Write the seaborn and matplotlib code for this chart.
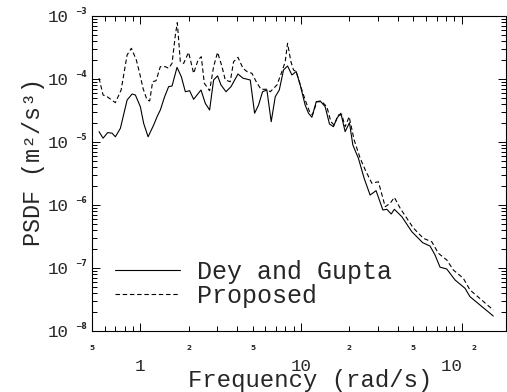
import numpy as np
import pandas as pd
import matplotlib
matplotlib.use("Agg")
import matplotlib.pyplot as plt
import seaborn as sns
from matplotlib.ticker import FixedLocator, FixedFormatter, FuncFormatter

# ---------------- data ----------------
freq_dey = [0.553, 0.586, 0.626, 0.667, 0.699, 0.751, 0.827, 0.888, 0.931, 1.0,
            1.048, 1.117, 1.21, 1.27, 1.331, 1.416, 1.499, 1.574, 1.691, 1.798,
            1.905, 2.025, 2.145, 2.252, 2.384, 2.536, 2.697, 2.856, 3.024, 3.176,
            3.411, 3.664, 4.05, 4.35, 4.83, 5.14, 5.44, 5.76, 6.13, 6.52,
            6.91, 7.32, 7.78, 8.24, 8.77, 9.33, 9.88, 10.6, 11.13, 11.68,
            12.43, 13.16, 14.13, 15.03, 15.91, 16.71, 17.69, 18.81, 20.01, 21.01,
            22.76, 24.7, 26.9, 29.3, 32.3, 34.2, 36.4, 38.1, 42.4, 48.9,
            57.2, 63.5, 68.2, 73.3, 80.7, 90.9, 104.8, 112.6, 157.2]
psdf_dey = [1.46e-5, 1.15e-5, 1.41e-5, 1.38e-5, 1.21e-5, 1.65e-5, 4.64e-5, 5.78e-5, 5.57e-5, 3.63e-5,
            1.98e-5, 1.21e-5, 1.86e-5, 2.52e-5, 3.22e-5, 5.24e-5, 7.55e-5, 7.74e-5, 1.53e-4, 1.09e-4,
            6.28e-5, 6.52e-5, 4.76e-5, 5.57e-5, 6.69e-5, 4.11e-5, 3.22e-5, 9.64e-5, 1.12e-4, 8.04e-5,
            6.28e-5, 7.55e-5, 1.20e-4, 1.03e-4, 9.64e-5, 2.86e-5, 3.87e-5, 6.28e-5, 6.69e-5, 2.10e-5,
            5.24e-5, 6.69e-5, 1.39e-4, 1.61e-4, 1.16e-4, 1.31e-4, 8.04e-5, 3.87e-5, 2.86e-5, 2.47e-5,
            4.36e-5, 4.48e-5, 3.63e-5, 1.93e-5, 1.75e-5, 2.38e-5, 2.86e-5, 1.46e-5, 2.02e-5, 8.95e-6,
            5.5e-6, 2.65e-6, 1.44e-6, 1.69e-6, 8.34e-7, 8.55e-7, 7.2e-7, 8.55e-7, 6.52e-7, 3.77e-7,
            2.52e-7, 2.23e-7, 1.61e-7, 1.03e-7, 9.64e-8, 6.45e-8, 4.77e-8, 3.5e-8, 1.73e-8]

freq_prop = [0.553, 0.586, 0.621, 0.699, 0.759, 0.827, 0.879, 0.944, 0.99, 1.039,
             1.10, 1.143, 1.192, 1.252, 1.331, 1.43, 1.499, 1.574, 1.651, 1.698,
             1.773, 1.859, 1.996, 2.145, 2.285, 2.394, 2.50, 2.697, 2.856, 3.024,
             3.221, 3.377, 3.626, 3.802, 4.05, 4.35, 4.61, 4.95, 5.26, 5.63,
             6.13, 6.43, 7.08, 7.60, 7.97, 8.24, 8.65, 8.98, 9.33, 10.12,
             10.61, 11.29, 11.78, 12.55, 13.48, 14.48, 15.33, 16.07, 17.09, 17.95,
             18.81, 19.93, 21.4, 23.3, 25.1, 27.6, 30.3, 33.4, 35.8, 38.1,
             41.4, 50.0, 57.7, 65.1, 71.6, 80.7, 88.7, 102.3, 112.6, 157.2]
psdf_prop = [1.03e-4, 5.57e-5, 5.24e-5, 4.21e-5, 6.69e-5, 2.41e-4, 3.07e-4, 2.0e-4, 1.23e-4, 7.11e-5,
             4.64e-5, 4.48e-5, 9.06e-5, 9.39e-5, 1.57e-4, 1.57e-4, 1.48e-4, 1.77e-4, 4.99e-4, 7.83e-4,
             1.88e-4, 1.77e-4, 2.65e-4, 1.23e-4, 2.0e-4, 2.26e-4, 8.55e-5, 6.52e-5, 1.57e-4, 2.65e-4,
             1.57e-4, 9.64e-5, 9.06e-5, 1.88e-4, 2.21e-4, 1.48e-4, 1.31e-4, 1.23e-4, 9.06e-5, 6.87e-5,
             6.87e-5, 6.28e-5, 8.04e-5, 1.31e-4, 1.88e-4, 3.69e-4, 1.88e-4, 1.39e-4, 1.31e-4, 6.69e-5,
             4.64e-5, 3.03e-5, 2.69e-5, 4.36e-5, 4.36e-5, 3.63e-5, 2.10e-5, 1.86e-5, 2.69e-5, 2.69e-5,
             1.75e-5, 2.52e-5, 1.08e-5, 5.57e-6, 3.6e-6, 2.21e-6, 2.34e-6, 9.4e-7, 1.06e-6, 1.32e-6,
             8.87e-7, 4.31e-7, 2.96e-7, 2.61e-7, 1.71e-7, 1.34e-7, 9.29e-8, 6.87e-8, 4.48e-8, 2.15e-8]

series_labels = ["Dey and Gupta", "Proposed"]
x_label = "Frequency (rad/s)"
y_label = "PSDF (m\u00b2/s\u00b3)"
x_major_ticks = [1, 10, 100]
x_major_labels = ["1", "10", "10  "]
x_small_labels = {0.5: "5", 2: "2", 5: "5", 20: "2", 50: "5"}
x_exponent_tick = 100
x_exponent = "2"
y_ticks = [1e-8, 1e-7, 1e-6, 1e-5, 1e-4, 1e-3]
y_exponents = ["\u22128", "\u22127", "\u22126", "\u22125", "\u22124", "\u22123"]

# ---------------- figure ----------------
sns.set_style("ticks")
plt.rcParams["font.family"] = ["Liberation Mono", "DejaVu Sans"]

W, H = 507, 392
fig = plt.figure(figsize=(W / 100, H / 100), dpi=100)
L, R, T, B = 92, 506, 16, 331
ax = fig.add_axes([L / W, 1 - B / H, (R - L) / W, (B - T) / H])

df_dey = pd.DataFrame({"Frequency": freq_dey, "PSDF": psdf_dey})
df_prop = pd.DataFrame({"Frequency": freq_prop, "PSDF": psdf_prop})

sns.lineplot(data=df_dey, x="Frequency", y="PSDF", ax=ax, color="black",
             linewidth=0.8, estimator=None, sort=False, label=series_labels[0])
sns.lineplot(data=df_prop, x="Frequency", y="PSDF", ax=ax, color="black",
             linewidth=0.8, estimator=None, sort=False, label=series_labels[1],
             dashes=False, linestyle=(0, (4, 2.5)))

ax.set_xscale("log")
ax.set_yscale("log")
ax.set_xlim(0.5, 188.6)
ax.set_ylim(1e-8, 1e-3)

for s in ax.spines.values():
    s.set_visible(True)
    s.set_linewidth(0.8)
    s.set_color("black")

# x ticks
ax.xaxis.set_major_locator(FixedLocator(x_major_ticks))
ax.xaxis.set_major_formatter(FixedFormatter(x_major_labels))
x_minor = [m * 10.0 ** e for e in (-1, 0, 1, 2) for m in range(2, 10)]
x_minor = [v for v in x_minor if 0.5 <= v <= 188.6]
ax.xaxis.set_minor_locator(FixedLocator(x_minor))
ax.xaxis.set_minor_formatter(FuncFormatter(
    lambda v, p: next((t for k, t in x_small_labels.items() if abs(v - k) < 1e-6 * k), "")))

# y ticks
ax.yaxis.set_major_locator(FixedLocator(y_ticks))
ax.yaxis.set_major_formatter(FixedFormatter(["10"] * len(y_ticks)))
y_minor = [m * 10.0 ** e for e in range(-8, -3) for m in range(2, 10)]
ax.yaxis.set_minor_locator(FixedLocator(y_minor))
ax.yaxis.set_minor_formatter(FuncFormatter(lambda v, p: ""))

ax.tick_params(which="both", direction="in", top=True, right=True,
               width=0.7, color="black")
ax.tick_params(which="major", length=6)
ax.tick_params(which="minor", length=3.5)
ax.tick_params(axis="x", which="major", labelsize=12.6, pad=20.3)
ax.tick_params(axis="y", which="major", labelsize=12.6, pad=17)
ax.tick_params(axis="x", which="minor", labelsize=5.2, pad=10.3)

fig.canvas.draw()
for lab in ax.get_xticklabels(minor=True):
    lab.set_fontfamily("DejaVu Sans")
    lab.set_fontweight("bold")

# exponents of the y tick labels
for v, e in zip(y_ticks, y_exponents):
    ax.annotate(e, xy=(0, v), xycoords=("axes fraction", "data"),
                xytext=(-17, 4.5), textcoords="offset pixels",
                ha="left", va="center", fontsize=5.5, fontweight="bold",
                fontfamily="DejaVu Sans", annotation_clip=False)
# exponent of the 10^2 x tick label
ax.annotate(x_exponent, xy=(x_exponent_tick, 0), xycoords=("data", "axes fraction"),
            xytext=(10, -17), textcoords="offset pixels",
            ha="left", va="center", fontsize=5.2, fontweight="bold",
            fontfamily="DejaVu Sans", annotation_clip=False)

ax.set_xlabel(x_label, fontsize=17.2)
ax.set_ylabel(y_label, fontsize=16.8)
ax.xaxis.set_label_coords((309.7 - L) / (R - L), (B - 369.5) / (B - T))
ax.yaxis.set_label_coords((45 - L) / (R - L), (B - 161.5) / (B - T))

leg = ax.legend(loc="lower left",
                bbox_to_anchor=((115 - L) / (R - L), (B - 307.5) / (B - T)),
                frameon=False, fontsize=18, handlelength=2.6,
                handletextpad=0.68, labelspacing=-0.02, borderpad=0,
                borderaxespad=0)

fig.savefig("out.png", dpi=100)
